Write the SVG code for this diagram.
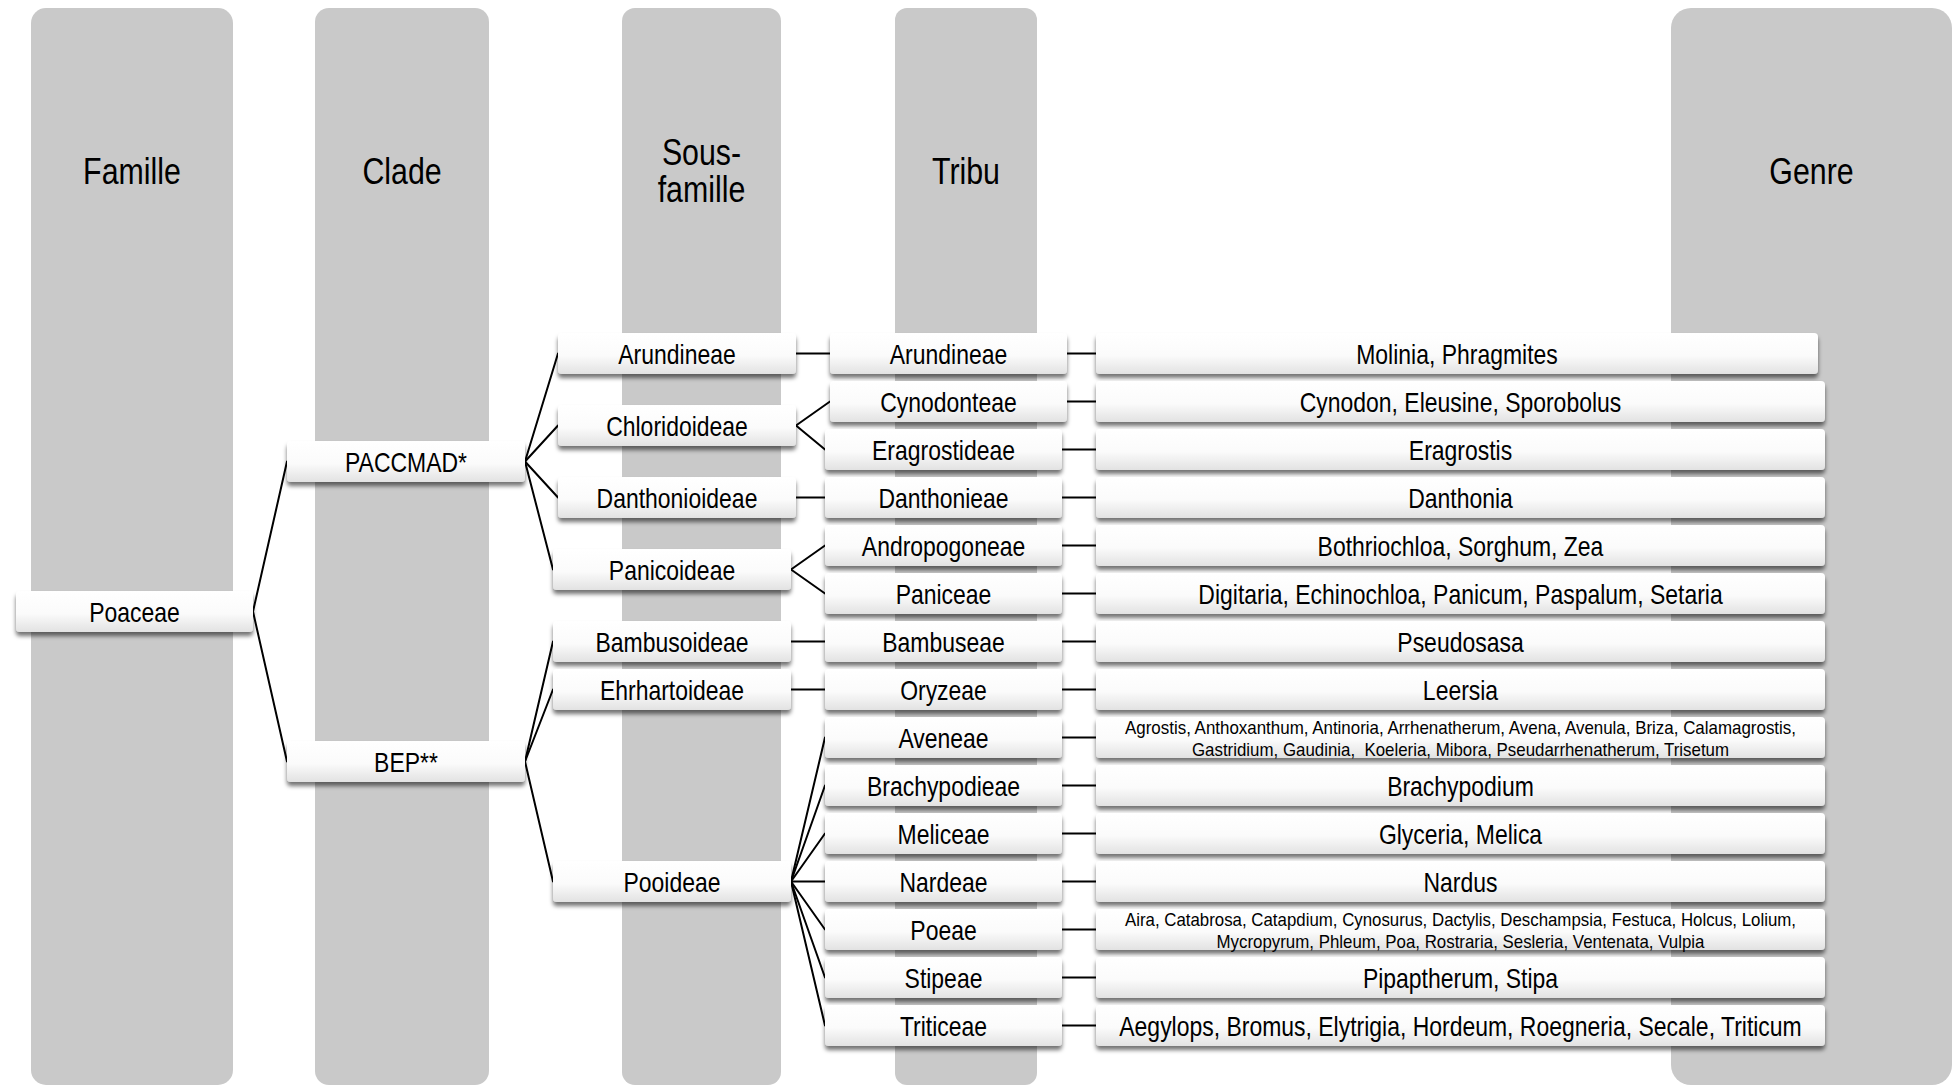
<svg xmlns="http://www.w3.org/2000/svg" width="1957" height="1086" viewBox="0 0 1957 1086">
<defs>
<linearGradient id="g" x1="0" y1="0" x2="0" y2="1">
<stop offset="0" stop-color="#ffffff"/>
<stop offset="0.55" stop-color="#fbfbfb"/>
<stop offset="1" stop-color="#e2e2e2"/>
</linearGradient>
<filter id="sh" x="-5%" y="-20%" width="110%" height="160%">
<feDropShadow dx="0" dy="4" stdDeviation="2.2" flood-color="#000" flood-opacity="0.55"/>
</filter>
</defs>
<style>
.col{fill:#c9c9c9}
.box{fill:url(#g);filter:url(#sh)}
.t{font-family:"Liberation Sans",Arial,sans-serif;font-size:28px;fill:#000;text-anchor:middle}
.h{font-family:"Liberation Sans",Arial,sans-serif;font-size:37px;fill:#000;text-anchor:middle}
.s{font-family:"Liberation Sans",Arial,sans-serif;font-size:19px;fill:#000;text-anchor:middle}
.c line{stroke:#000;stroke-width:2;stroke-linecap:round}
</style>
<rect width="1957" height="1086" fill="#fff"/>
<g id="columns">
<g id="col-famille"><rect class="col" x="31" y="8" width="202" height="1077" rx="15"/><text class="h" transform="translate(132,184) scale(0.82,1)">Famille</text></g>
<g id="col-clade"><rect class="col" x="315" y="8" width="174" height="1077" rx="14"/><text class="h" transform="translate(402,184) scale(0.82,1)">Clade</text></g>
<g id="col-sousfamille"><rect class="col" x="622" y="8" width="159" height="1077" rx="13"/><text class="h" transform="translate(701.5,165) scale(0.82,1)">Sous-</text><text class="h" transform="translate(701.5,202) scale(0.82,1)">famille</text></g>
<g id="col-tribu"><rect class="col" x="895" y="8" width="142" height="1077" rx="12"/><text class="h" transform="translate(966,184) scale(0.82,1)">Tribu</text></g>
<g id="col-genre"><rect class="col" x="1671" y="8" width="281" height="1077" rx="20"/><text class="h" transform="translate(1811.5,184) scale(0.82,1)">Genre</text></g>
</g>
<g id="connectors" class="c">
<line x1="253" y1="611.5" x2="287" y2="461.5"/>
<line x1="253" y1="611.5" x2="287" y2="761.5"/>
<line x1="525" y1="461.5" x2="558" y2="353.5"/>
<line x1="525" y1="461.5" x2="558" y2="425.5"/>
<line x1="525" y1="461.5" x2="558" y2="497.5"/>
<line x1="525" y1="461.5" x2="553" y2="569.5"/>
<line x1="525" y1="761.5" x2="553" y2="641.5"/>
<line x1="525" y1="761.5" x2="553" y2="689.5"/>
<line x1="525" y1="761.5" x2="553" y2="881.5"/>
<line x1="796" y1="353.5" x2="830" y2="353.5"/>
<line x1="796" y1="425.5" x2="830" y2="401.5"/>
<line x1="796" y1="425.5" x2="825" y2="449.5"/>
<line x1="796" y1="497.5" x2="825" y2="497.5"/>
<line x1="791" y1="569.5" x2="825" y2="545.5"/>
<line x1="791" y1="569.5" x2="825" y2="593.5"/>
<line x1="791" y1="641.5" x2="825" y2="641.5"/>
<line x1="791" y1="689.5" x2="825" y2="689.5"/>
<line x1="791" y1="881.5" x2="825" y2="737.5"/>
<line x1="791" y1="881.5" x2="825" y2="785.5"/>
<line x1="791" y1="881.5" x2="825" y2="833.5"/>
<line x1="791" y1="881.5" x2="825" y2="881.5"/>
<line x1="791" y1="881.5" x2="825" y2="929.5"/>
<line x1="791" y1="881.5" x2="825" y2="977.5"/>
<line x1="791" y1="881.5" x2="825" y2="1025.5"/>
<line x1="1067" y1="353.5" x2="1096" y2="353.5"/>
<line x1="1067" y1="401.5" x2="1096" y2="401.5"/>
<line x1="1062" y1="449.5" x2="1096" y2="449.5"/>
<line x1="1062" y1="497.5" x2="1096" y2="497.5"/>
<line x1="1062" y1="545.5" x2="1096" y2="545.5"/>
<line x1="1062" y1="593.5" x2="1096" y2="593.5"/>
<line x1="1062" y1="641.5" x2="1096" y2="641.5"/>
<line x1="1062" y1="689.5" x2="1096" y2="689.5"/>
<line x1="1062" y1="737.5" x2="1096" y2="737.5"/>
<line x1="1062" y1="785.5" x2="1096" y2="785.5"/>
<line x1="1062" y1="833.5" x2="1096" y2="833.5"/>
<line x1="1062" y1="881.5" x2="1096" y2="881.5"/>
<line x1="1062" y1="929.5" x2="1096" y2="929.5"/>
<line x1="1062" y1="977.5" x2="1096" y2="977.5"/>
<line x1="1062" y1="1025.5" x2="1096" y2="1025.5"/>
</g>
<g id="nodes">
<g id="n-poaceae"><rect class="box" x="16" y="591" width="237" height="41" rx="4"/><text class="t" transform="translate(134.5,621.5) scale(0.82,1)">Poaceae</text></g>
<g id="n-paccmad"><rect class="box" x="287" y="441" width="238" height="41" rx="4"/><text class="t" transform="translate(406,471.5) scale(0.82,1)">PACCMAD*</text></g>
<g id="n-bep"><rect class="box" x="287" y="741" width="238" height="41" rx="4"/><text class="t" transform="translate(406,771.5) scale(0.82,1)">BEP**</text></g>

<g id="sf-arundineae"><rect class="box" x="558" y="333" width="238" height="41" rx="4"/><text class="t" transform="translate(677,363.5) scale(0.82,1)">Arundineae</text></g>
<g id="sf-chloridoideae"><rect class="box" x="558" y="405" width="238" height="41" rx="4"/><text class="t" transform="translate(677,435.5) scale(0.82,1)">Chloridoideae</text></g>
<g id="sf-danthonioideae"><rect class="box" x="558" y="477" width="238" height="41" rx="4"/><text class="t" transform="translate(677,507.5) scale(0.82,1)">Danthonioideae</text></g>
<g id="sf-panicoideae"><rect class="box" x="553" y="549" width="238" height="41" rx="4"/><text class="t" transform="translate(672,579.5) scale(0.82,1)">Panicoideae</text></g>
<g id="sf-bambusoideae"><rect class="box" x="553" y="621" width="238" height="41" rx="4"/><text class="t" transform="translate(672,651.5) scale(0.82,1)">Bambusoideae</text></g>
<g id="sf-ehrhartoideae"><rect class="box" x="553" y="669" width="238" height="41" rx="4"/><text class="t" transform="translate(672,699.5) scale(0.82,1)">Ehrhartoideae</text></g>
<g id="sf-pooideae"><rect class="box" x="553" y="861" width="238" height="41" rx="4"/><text class="t" transform="translate(672,891.5) scale(0.82,1)">Pooideae</text></g>

<g id="tr-arundineae"><rect class="box" x="830" y="333" width="237" height="41" rx="4"/><text class="t" transform="translate(948.5,363.5) scale(0.82,1)">Arundineae</text></g>
<g id="tr-cynodonteae"><rect class="box" x="830" y="381" width="237" height="41" rx="4"/><text class="t" transform="translate(948.5,411.5) scale(0.82,1)">Cynodonteae</text></g>
<g id="tr-eragrostideae"><rect class="box" x="825" y="429" width="237" height="41" rx="4"/><text class="t" transform="translate(943.5,459.5) scale(0.82,1)">Eragrostideae</text></g>
<g id="tr-danthonieae"><rect class="box" x="825" y="477" width="237" height="41" rx="4"/><text class="t" transform="translate(943.5,507.5) scale(0.82,1)">Danthonieae</text></g>
<g id="tr-andropogoneae"><rect class="box" x="825" y="525" width="237" height="41" rx="4"/><text class="t" transform="translate(943.5,555.5) scale(0.82,1)">Andropogoneae</text></g>
<g id="tr-paniceae"><rect class="box" x="825" y="573" width="237" height="41" rx="4"/><text class="t" transform="translate(943.5,603.5) scale(0.82,1)">Paniceae</text></g>
<g id="tr-bambuseae"><rect class="box" x="825" y="621" width="237" height="41" rx="4"/><text class="t" transform="translate(943.5,651.5) scale(0.82,1)">Bambuseae</text></g>
<g id="tr-oryzeae"><rect class="box" x="825" y="669" width="237" height="41" rx="4"/><text class="t" transform="translate(943.5,699.5) scale(0.82,1)">Oryzeae</text></g>
<g id="tr-aveneae"><rect class="box" x="825" y="717" width="237" height="41" rx="4"/><text class="t" transform="translate(943.5,747.5) scale(0.82,1)">Aveneae</text></g>
<g id="tr-brachypodieae"><rect class="box" x="825" y="765" width="237" height="41" rx="4"/><text class="t" transform="translate(943.5,795.5) scale(0.82,1)">Brachypodieae</text></g>
<g id="tr-meliceae"><rect class="box" x="825" y="813" width="237" height="41" rx="4"/><text class="t" transform="translate(943.5,843.5) scale(0.82,1)">Meliceae</text></g>
<g id="tr-nardeae"><rect class="box" x="825" y="861" width="237" height="41" rx="4"/><text class="t" transform="translate(943.5,891.5) scale(0.82,1)">Nardeae</text></g>
<g id="tr-poeae"><rect class="box" x="825" y="909" width="237" height="41" rx="4"/><text class="t" transform="translate(943.5,939.5) scale(0.82,1)">Poeae</text></g>
<g id="tr-stipeae"><rect class="box" x="825" y="957" width="237" height="41" rx="4"/><text class="t" transform="translate(943.5,987.5) scale(0.82,1)">Stipeae</text></g>
<g id="tr-triticeae"><rect class="box" x="825" y="1005" width="237" height="41" rx="4"/><text class="t" transform="translate(943.5,1035.5) scale(0.82,1)">Triticeae</text></g>

<g id="ge-0"><rect class="box" x="1096" y="333" width="722" height="41" rx="4"/><text class="t" transform="translate(1457,363.5) scale(0.82,1)">Molinia, Phragmites</text></g>
<g id="ge-1"><rect class="box" x="1096" y="381" width="729" height="41" rx="4"/><text class="t" transform="translate(1460.5,411.5) scale(0.82,1)">Cynodon, Eleusine, Sporobolus</text></g>
<g id="ge-2"><rect class="box" x="1096" y="429" width="729" height="41" rx="4"/><text class="t" transform="translate(1460.5,459.5) scale(0.82,1)">Eragrostis</text></g>
<g id="ge-3"><rect class="box" x="1096" y="477" width="729" height="41" rx="4"/><text class="t" transform="translate(1460.5,507.5) scale(0.82,1)">Danthonia</text></g>
<g id="ge-4"><rect class="box" x="1096" y="525" width="729" height="41" rx="4"/><text class="t" transform="translate(1460.5,555.5) scale(0.82,1)">Bothriochloa, Sorghum, Zea</text></g>
<g id="ge-5"><rect class="box" x="1096" y="573" width="729" height="41" rx="4"/><text class="t" transform="translate(1460.5,603.5) scale(0.82,1)">Digitaria, Echinochloa, Panicum, Paspalum, Setaria</text></g>
<g id="ge-6"><rect class="box" x="1096" y="621" width="729" height="41" rx="4"/><text class="t" transform="translate(1460.5,651.5) scale(0.82,1)">Pseudosasa</text></g>
<g id="ge-7"><rect class="box" x="1096" y="669" width="729" height="41" rx="4"/><text class="t" transform="translate(1460.5,699.5) scale(0.82,1)">Leersia</text></g>
<g id="ge-8"><rect class="box" x="1096" y="717" width="729" height="41" rx="4"/><text class="s" x="1460.5" y="734" textLength="671" lengthAdjust="spacingAndGlyphs">Agrostis, Anthoxanthum, Antinoria, Arrhenatherum, Avena, Avenula, Briza, Calamagrostis,</text><text class="s" xml:space="preserve" x="1460.5" y="756" textLength="537" lengthAdjust="spacingAndGlyphs">Gastridium, Gaudinia,  Koeleria, Mibora, Pseudarrhenatherum, Trisetum</text></g>
<g id="ge-9"><rect class="box" x="1096" y="765" width="729" height="41" rx="4"/><text class="t" transform="translate(1460.5,795.5) scale(0.82,1)">Brachypodium</text></g>
<g id="ge-10"><rect class="box" x="1096" y="813" width="729" height="41" rx="4"/><text class="t" transform="translate(1460.5,843.5) scale(0.82,1)">Glyceria, Melica</text></g>
<g id="ge-11"><rect class="box" x="1096" y="861" width="729" height="41" rx="4"/><text class="t" transform="translate(1460.5,891.5) scale(0.82,1)">Nardus</text></g>
<g id="ge-12"><rect class="box" x="1096" y="909" width="729" height="41" rx="4"/><text class="s" x="1460.5" y="926" textLength="671" lengthAdjust="spacingAndGlyphs">Aira, Catabrosa, Catapdium, Cynosurus, Dactylis, Deschampsia, Festuca, Holcus, Lolium,</text><text class="s" x="1460.5" y="948" textLength="488" lengthAdjust="spacingAndGlyphs">Mycropyrum, Phleum, Poa, Rostraria, Sesleria, Ventenata, Vulpia</text></g>
<g id="ge-13"><rect class="box" x="1096" y="957" width="729" height="41" rx="4"/><text class="t" transform="translate(1460.5,987.5) scale(0.82,1)">Pipaptherum, Stipa</text></g>
<g id="ge-14"><rect class="box" x="1096" y="1005" width="729" height="41" rx="4"/><text class="t" transform="translate(1460.5,1035.5) scale(0.82,1)">Aegylops, Bromus, Elytrigia, Hordeum, Roegneria, Secale, Triticum</text></g>
</g>
</svg>
